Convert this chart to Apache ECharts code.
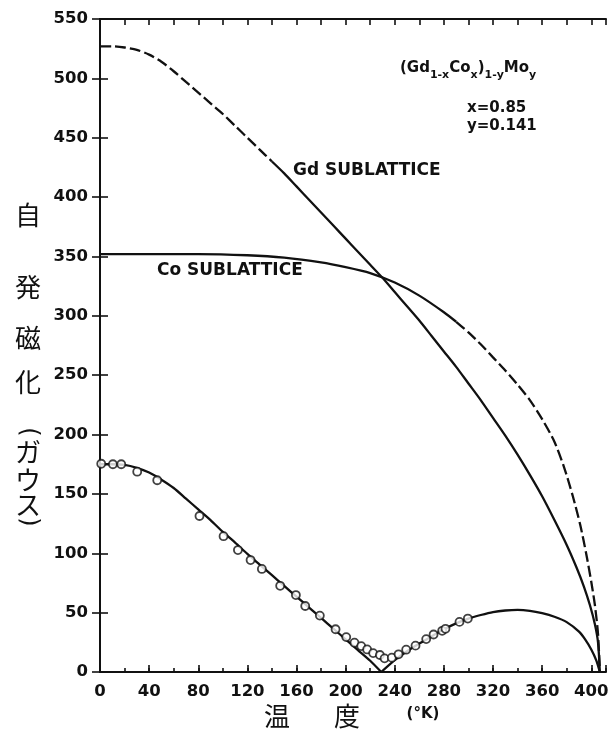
<!DOCTYPE html>
<html><head><meta charset="utf-8">
<script src="https://cdn.jsdelivr.net/npm/echarts@6/dist/echarts.min.js"></script>
<style>html,body{margin:0;padding:0;background:#fff}#c{width:612px;height:732px}</style>
</head><body><div id="c"></div>
<script>
// temperature axis (K) and magnetization axis (gauss)
const xMin = 0, xMax = 412, xLabelStep = 40, xTickStep = 20;
const yMin = 0, yMax = 550, yStep = 50;

// Gd sublattice (dashed part, then solid part)
const gdDashed = [[0,527],[10,527],[20,526],[30,524],[40,520],[50,514],[60,506],[70,497],[80,488],[90,479],[100,470],[110,460],[120,450],[130,440],[140,430]];
const gdSolid = [[140,430],[150,420],[160,409],[170,398],[180,387],[190,376],[200,365],[210,354],[220,343],[230,332],[240,320],[250,308],[260,296],[270,283],[280,270],[290,257],[300,243],[310,229],[320,214],[330,199],[340,183],[350,166],[360,148],[370,128],[380,107],[388,88],[394,72],[399,56],[403,40],[405.5,25],[407,0]];

// Co sublattice (solid part, then dashed part)
const coSolid = [[0,352],[40,352],[80,352],[120,351],[150,349],[180,345],[200,341],[220,336],[240,328],[260,317],[280,303],[290,295]];
const coDashed = [[290,295],[300,286],[310,276],[320,265],[330,254],[340,242],[350,229],[360,213],[370,194],[378,172],[385,148],[391,124],[396,99],[400,76],[403,56],[405.5,32],[407,0]];

// net spontaneous magnetization (fitted curve, two branches around compensation point)
const netLeft = [[0,175],[10,175],[20,174.5],[30,172],[40,168],[50,162],[60,155],[70,146],[80,137],[90,128],[100,118],[110,109],[120,99.5],[130,90.5],[140,81.5],[150,72.5],[160,63.5],[170,54.5],[180,45.5],[190,36.5],[200,27.5],[210,18.5],[220,9.5],[229,0]];
const netRight = [[229,0],[240,10],[250,17.5],[260,24],[270,30],[280,36],[290,41],[300,45],[310,48],[320,50.5],[330,51.8],[340,52.3],[350,51.5],[360,49.5],[370,46.5],[380,42],[390,34],[395,27.5],[400,19],[404,10],[407,0]];

// measured points
const measured = [[1,175.4],[10.5,175],[17.3,175],[30.3,168.7],[46.6,161.5],[81,131.4],[100.6,114.4],[112.3,102.7],[122.6,94.3],[131.8,86.8],[146.7,72.6],[159.5,64.8],[167.1,55.6],[179,47.5],[191.8,36],[200.5,29.4],[207.2,24.7],[212.7,21.8],[217.5,19],[222.4,15.9],[227.9,14.3],[231.7,11.5],[237.6,12.1],[243.1,14.9],[249.3,18.8],[256.9,22.2],[265.6,27.7],[271.6,31.6],[278.6,34.7],[281.3,36.4],[292.7,42.2],[299.5,45]];

const yNameChars = ['自','発','磁','化','ガ','ウ','ス'];
const xNameChars = ['温','度'];

const FONT = 'DejaVu Sans';
const INK = '#111';
const chart = echarts.init(document.getElementById('c'), null, {renderer:'canvas'});

const lineSeries = (data, dashed) => ({
  type:'line', data, showSymbol:false, smooth:0.25, xAxisIndex:0, yAxisIndex:0,
  lineStyle:{color:INK, width:2.3, type: dashed ? [11,4] : 'solid'}, animation:false, z:3
});

const yPos = [215,287,338,382,452,480,505];
const kanji = '26px "Noto Sans CJK JP"';

chart.setOption({
  backgroundColor:'#fff',
  animation:false,
  grid:{left:100, right:6, top:19, bottom:60, show:false},
  xAxis:[
    {type:'value', min:xMin, max:xMax, interval:xTickStep, position:'bottom',
     axisLine:{show:true, lineStyle:{color:INK, width:2}},
     axisTick:{show:true, inside:true, length:4, lineStyle:{color:INK, width:1.6}},
     axisLabel:{show:true, margin:11, color:INK, fontFamily:FONT, fontWeight:'bold', fontSize:16.5,
       formatter:v => (v % xLabelStep === 0 ? String(v) : '')},
     splitLine:{show:false}},
    {type:'value', min:xMin, max:xMax, interval:xLabelStep, position:'bottom',
     axisLine:{show:false}, axisTick:{show:true, inside:true, length:7, lineStyle:{color:INK, width:1.6}},
     axisLabel:{show:false}, splitLine:{show:false}},
    {type:'value', min:xMin, max:xMax, interval:xTickStep, position:'top',
     axisLine:{show:true, lineStyle:{color:INK, width:2}},
     axisTick:{show:true, inside:true, length:6, lineStyle:{color:INK, width:1.6}},
     axisLabel:{show:false}, splitLine:{show:false}}
  ],
  yAxis:[
    {type:'value', min:yMin, max:yMax, interval:yStep, position:'left',
     axisLine:{show:true, lineStyle:{color:INK, width:2}},
     axisTick:{show:true, inside:true, length:8, lineStyle:{color:INK, width:1.6}},
     axisLabel:{margin:12, color:INK, fontFamily:FONT, fontWeight:'bold', fontSize:16.5},
     splitLine:{show:false}},
    {type:'value', min:yMin, max:yMax, interval:yStep, position:'right',
     axisLine:{show:true, lineStyle:{color:INK, width:2}},
     axisTick:{show:true, inside:true, length:8, lineStyle:{color:INK, width:1.6}},
     axisLabel:{show:false}, splitLine:{show:false}}
  ],
  series:[
    lineSeries(gdDashed, true),
    lineSeries(gdSolid, false),
    lineSeries(coSolid, false),
    lineSeries(coDashed, true),
    lineSeries(netLeft, false),
    lineSeries(netRight, false),
    {type:'scatter', data:measured, symbol:'circle', symbolSize:8, xAxisIndex:0, yAxisIndex:0,
     itemStyle:{color:'#fff', borderColor:INK, borderWidth:1.8}, z:5, animation:false}
  ],
  graphic:[
    ...yNameChars.map((ch,i) => ({type:'text', x:28, y:yPos[i],
      style:{text:ch, font:kanji, fill:INK, align:'center', verticalAlign:'middle'}})),
    {type:'text', x:28, y:432, rotation:-Math.PI/2,
      style:{text:'(', font:'24px "DejaVu Sans"', fill:INK, align:'center', verticalAlign:'middle'}},
    {type:'text', x:28, y:522, rotation:-Math.PI/2,
      style:{text:')', font:'24px "DejaVu Sans"', fill:INK, align:'center', verticalAlign:'middle'}},
    {type:'text', x:277, y:716, style:{text:xNameChars[0], font:kanji, fill:INK, align:'center', verticalAlign:'middle'}},
    {type:'text', x:347, y:716, style:{text:xNameChars[1], font:kanji, fill:INK, align:'center', verticalAlign:'middle'}},
    {type:'text', x:423, y:714, style:{text:'(°K)', font:'bold 15px "DejaVu Sans"', fill:INK, align:'center', verticalAlign:'middle'}},
    {type:'text', x:400, y:61, style:{
      text:'{m|(Gd}{s|1-x}{m|Co}{s|x}{m|)}{s|1-y}{m|Mo}{s|y}',
      rich:{m:{font:'bold 15px "DejaVu Sans"', fill:INK, verticalAlign:'top', lineHeight:17},
            s:{font:'bold 11px "DejaVu Sans"', fill:INK, verticalAlign:'top', lineHeight:13, padding:[9,0,0,0]}},
      fill:INK}},
    {type:'text', x:467, y:108, style:{text:'x=0.85', font:'bold 15px "DejaVu Sans"', fill:INK, verticalAlign:'middle'}},
    {type:'text', x:467, y:126, style:{text:'y=0.141', font:'bold 15px "DejaVu Sans"', fill:INK, verticalAlign:'middle'}},
    {type:'text', x:293, y:171, style:{text:'Gd SUBLATTICE', font:'bold 17px "DejaVu Sans"', fill:INK, verticalAlign:'middle'}},
    {type:'text', x:157, y:271, style:{text:'Co SUBLATTICE', font:'bold 17px "DejaVu Sans"', fill:INK, verticalAlign:'middle'}}
  ]
});
</script></body></html>
